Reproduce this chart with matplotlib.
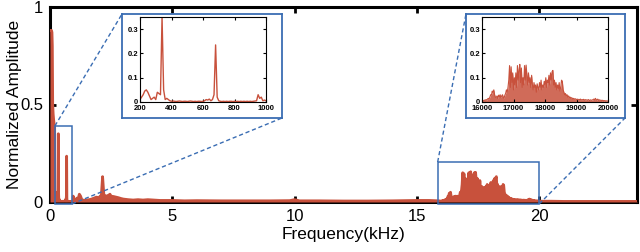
import numpy as np
import matplotlib
matplotlib.use("Agg")
import matplotlib.pyplot as plt
from matplotlib.patches import Rectangle
from matplotlib.lines import Line2D

plt.rcParams['font.family'] = ['Liberation Sans', 'DejaVu Sans']

RED = '#c8513c'
BLUE = '#3a6db3'

# --- spectrum data (frequency in Hz, normalized amplitude) ---
# DC region
dc_freq = [0, 20, 40, 60, 80, 95, 110, 130, 150, 170, 190, 198]
dc_amp = [0.88, 0.88, 0.88, 0.88, 0.87, 0.80, 0.50, 0.45, 0.42, 0.40, 0.38, 0.02]

# 200 - 1000 Hz, 10 Hz bins (zoomed in first inset)
low_freq = np.arange(200, 1001, 10)
low_amp = [
    0.010, 0.020, 0.030, 0.045, 0.050, 0.040, 0.025, 0.010, 0.015, 0.020,  # 200-290
    0.010, 0.040, 0.035, 0.030, 0.350, 0.050, 0.010, 0.015, 0.010, 0.005,  # 300-390
    0.003, 0.004, 0.003, 0.002, 0.003, 0.004, 0.003, 0.002, 0.003, 0.003,  # 400-490
    0.002, 0.003, 0.004, 0.003, 0.002, 0.003, 0.002, 0.003, 0.003, 0.002,  # 500-590
    0.003, 0.005, 0.010, 0.008, 0.012, 0.005, 0.010, 0.030, 0.235, 0.020,  # 600-690
    0.005, 0.003, 0.002, 0.003, 0.002, 0.003, 0.002, 0.003, 0.003, 0.002,  # 700-790
    0.003, 0.002, 0.003, 0.002, 0.003, 0.002, 0.003, 0.002, 0.003, 0.002,  # 800-890
    0.003, 0.002, 0.003, 0.004, 0.005, 0.030, 0.015, 0.020, 0.005, 0.008,  # 900-990
    0.005,
]

# 1 - 16 kHz, sparse points
mid_freq = [1050, 1100, 1150, 1200, 1250, 1300, 1400, 1500, 1600, 1700, 1800,
            1900, 2000, 2050, 2100, 2150, 2200, 2250, 2300, 2400, 2450, 2500,
            2600, 2700, 2800, 2900, 3000, 3200, 3400, 3600, 3800, 4000, 4500,
            5000, 5500, 6000, 7000, 8000, 9000, 9800, 10000, 10200, 11000,
            12000, 13000, 14000, 15000, 15500, 15900]
mid_amp = [0.012, 0.020, 0.015, 0.040, 0.030, 0.012, 0.008, 0.010, 0.012, 0.015, 0.020,
           0.025, 0.022, 0.030, 0.035, 0.130, 0.040, 0.030, 0.030, 0.035, 0.040, 0.030,
           0.028, 0.025, 0.022, 0.018, 0.015, 0.012, 0.010, 0.012, 0.010, 0.012, 0.008,
           0.008, 0.006, 0.007, 0.006, 0.006, 0.006, 0.007, 0.012, 0.006, 0.006,
           0.005, 0.005, 0.006, 0.008, 0.008, 0.006]

# 16 - 20 kHz, 25 Hz bins (zoomed in second inset)
high_freq = np.arange(16000, 20001, 25)
high_amp = [
    0.004, 0.006, 0.005, 0.008, 0.006, 0.010, 0.008, 0.012,
    0.015, 0.012, 0.020, 0.030, 0.028, 0.045, 0.040, 0.050,
    0.030, 0.020, 0.018, 0.025, 0.015, 0.028, 0.020, 0.030,
    0.018, 0.025, 0.030, 0.020, 0.015, 0.028, 0.035, 0.050,
    0.040, 0.060, 0.090, 0.150, 0.060, 0.145, 0.080, 0.120,
    0.050, 0.100, 0.070, 0.120, 0.060, 0.150, 0.090, 0.130,
    0.155, 0.080, 0.140, 0.060, 0.100, 0.070, 0.150, 0.090,
    0.152, 0.110, 0.070, 0.120, 0.080, 0.100, 0.060, 0.110,
    0.070, 0.050, 0.080, 0.060, 0.070, 0.040, 0.075, 0.060,
    0.050, 0.080, 0.060, 0.090, 0.050, 0.070, 0.060, 0.085,
    0.070, 0.100, 0.060, 0.090, 0.080, 0.110, 0.070, 0.120,
    0.090, 0.125, 0.130, 0.070, 0.090, 0.060, 0.080, 0.050,
    0.070, 0.055, 0.080, 0.045, 0.060, 0.090, 0.085, 0.050,
    0.040, 0.030, 0.035, 0.025, 0.030, 0.020, 0.025, 0.018,
    0.020, 0.015, 0.018, 0.012, 0.015, 0.010, 0.014, 0.012,
    0.010, 0.012, 0.008, 0.011, 0.009, 0.012, 0.008, 0.010,
    0.009, 0.011, 0.007, 0.010, 0.008, 0.009, 0.007, 0.010,
    0.008, 0.006, 0.009, 0.007, 0.008, 0.010, 0.012, 0.009,
    0.015, 0.010, 0.008, 0.012, 0.007, 0.009, 0.006, 0.008,
    0.005, 0.007, 0.006, 0.005, 0.006, 0.004, 0.005, 0.004,
    0.004,
]

# 20 - 24 kHz
top_freq = [20500, 21000, 22000, 23000, 24000]
top_amp = [0.004, 0.003, 0.003, 0.003, 0.003]

freq = np.concatenate([dc_freq, low_freq, mid_freq, high_freq, top_freq]) / 1000.0
amp = np.concatenate([dc_amp, low_amp, mid_amp, high_amp, top_amp])

x_ticks = [0, 5, 10, 15, 20]
y_ticks = [0, 0.5, 1]

# --- figure ---
fig = plt.figure(figsize=(6.4, 2.52), dpi=100)
W, H = 640.0, 252.0

def px_axes(x0, y0, x1, y1):
    # pixel box (top-left origin) -> figure fraction rect
    return [x0 / W, 1 - y1 / H, (x1 - x0) / W, (y1 - y0) / H]

ax = fig.add_axes(px_axes(50, 7, 637, 202))
ax.fill_between(freq, 0, amp, color=RED, lw=0, zorder=3)
ax.plot(freq, amp, color=RED, lw=2.0, zorder=3)
ax.set_xlim(0, 24)
ax.set_ylim(0, 1)
ax.set_xticks(x_ticks)
ax.set_xticklabels([str(t) for t in x_ticks])
ax.set_yticks(y_ticks)
ax.set_yticklabels(['0', '0.5', '1'])
ax.tick_params(direction='in', length=4, width=2, labelsize=12, top=True, right=True, pad=5)
for s in ax.spines.values():
    s.set_linewidth(2.2)
ax.set_xlabel('Frequency(kHz)', fontsize=12.5, labelpad=2)
ax.set_ylabel('Normalized Amplitude', fontsize=12.5)
ax.yaxis.set_label_coords(-0.047, 0.5)

# zoom boxes on main axes
box1 = (0.2, -0.01, 0.9, 0.39)
box2 = (15.85, -0.01, 20.0, 0.205)
for (bx0, by0, bx1, by1) in (box1, box2):
    ax.add_patch(Rectangle((bx0, by0), bx1 - bx0, by1 - by0, fill=False,
                           ec=BLUE, lw=1.1, clip_on=False, zorder=5))

# inset frames and inner axes (pixel coordinates)
frames = [(122, 14, 282, 118), (466, 14, 625, 118)]
inners = [(140, 17, 266, 102), (482, 17, 608, 102)]

insets = []
for fr, inn in zip(frames, inners):
    fa = fig.add_axes(px_axes(*fr))
    fa.set_xticks([])
    fa.set_yticks([])
    for s in fa.spines.values():
        s.set_color(BLUE)
        s.set_linewidth(1.3)
    ia = fig.add_axes(px_axes(*inn))
    insets.append(ia)

ins1, ins2 = insets
ins1.plot(low_freq, low_amp, color=RED, lw=1.0)
ins1.set_xlim(200, 1000)
ins1.set_xticks([200, 400, 600, 800, 1000])
ins1.set_xticklabels(['200', '400', '600', '800', '1000'])

ins2.fill_between(high_freq, 0, high_amp, color=RED, lw=0, alpha=0.85)
ins2.plot(high_freq, high_amp, color=RED, lw=0.8)
ins2.set_xlim(16000, 20000)
ins2.set_xticks([16000, 17000, 18000, 19000, 20000])
ins2.set_xticklabels(['16000', '17000', '18000', '19000', '20000'])

for ia in insets:
    ia.set_ylim(0, 0.35)
    ia.set_yticks([0, 0.1, 0.2, 0.3])
    ia.set_yticklabels(['0', '0.1', '0.2', '0.3'])
    ia.tick_params(direction='in', length=2, width=0.8, labelsize=5.5, top=True,
                   right=True)
    ia.tick_params(axis='x', pad=2.5)
    ia.tick_params(axis='y', pad=1.5)
    for lab in ia.get_xticklabels() + ia.get_yticklabels():
        lab.set_fontweight('bold')
    for s in ia.spines.values():
        s.set_linewidth(0.8)

# dashed connector lines from zoom boxes to inset frames
to_fig = fig.transFigure.inverted()

def data_to_fig(x, y):
    return to_fig.transform(ax.transData.transform((x, y)))

def pix_to_fig(x, y):
    return (x / W, 1 - y / H)

connectors = [
    ((box1[0], box1[3]), (frames[0][0], frames[0][1])),
    ((box1[2], box1[1]), (frames[0][2], frames[0][3])),
    ((box2[0], box2[3]), (frames[1][0], frames[1][1])),
    ((box2[2], box2[1]), (frames[1][2], frames[1][3])),
]
for (dpt, ppt) in connectors:
    a = data_to_fig(*dpt)
    b = pix_to_fig(*ppt)
    fig.add_artist(Line2D([a[0], b[0]], [a[1], b[1]], transform=fig.transFigure,
                          color=BLUE, lw=1.0, ls=(0, (3, 2))))

fig.savefig('out.png', dpi=100)
